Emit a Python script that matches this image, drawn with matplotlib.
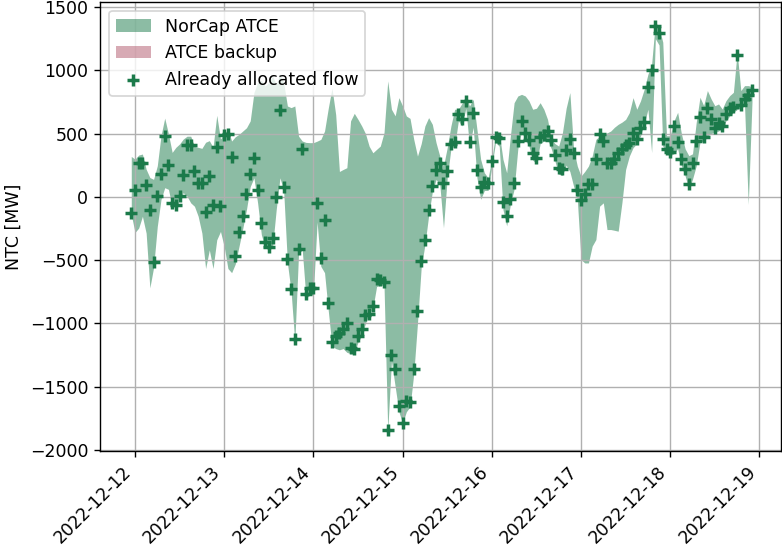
import pandas as pd
import matplotlib
matplotlib.use("Agg")
import matplotlib.pyplot as plt
import matplotlib.dates as mdates

# hourly values, first hour 2022-12-11 23:00
start = "2022-12-11 23:00"

atce_upper = [
    319, 298, 330, 338, 218, 152, 138, 245, 484, 622,
    497, 351, 391, 418, 457, 479, 479, 399, 391, 383,
    431, 444, 391, 644, 457, 497, 537, 441, 475, 494,
    520, 546, 600, 824, 903, 920, 876, 903, 955, 890,
    969, 903, 718, 705, 718, 480, 441, 430, 428, 428,
    440, 454, 520, 700, 860, 650, 200, 216, 230, 600,
    660, 612, 560, 500, 400, 348, 375, 401, 507, 916,
    692, 640, 784, 718, 639, 620, 454, 322, 420, 560,
    626, 573, 428, 322, 243, 388, 560, 692, 692, 740,
    797, 718, 771, 533, 296, 190, 150, 296, 494, 507,
    296, 190, 480, 744, 797, 810, 797, 758, 692, 700,
    744, 692, 612, 454, 420, 401, 507, 700, 824, 380,
    243, 164, 200, 243, 322, 454, 480, 494, 505, 520,
    550, 573, 590, 612, 665, 784, 692, 758, 850, 969,
    1050, 1380, 1340, 1222, 483, 483, 600, 668, 500, 380,
    325, 340, 589, 787, 721, 840, 774, 720, 734, 694,
    760, 800, 826, 1143, 840, 879, 879, 870,
]

atce_lower = [
    -140, -282, -247, -154, -287, -720, -560, -234, -21, 72,
    59, -80, -75, -8, 32, 5, -48, -75, -154, -287,
    -567, -420, -567, -340, -274, -394, -567, -600, -530, -390,
    -250, -100, 80, 150, -50, -300, -400, -420, -400, -100,
    150, 50, -520, -750, -1150, -450, -420, -800, -780, -760,
    -200, -550, -600, -900, -1180, -1200, -1210, -1200, -1230, -1240,
    -1230, -1150, -1100, -1000, -930, -880, -710, -700, -700, -1850,
    -1300, -1500, -1700, -1790, -1700, -1660, -1400, -1000, -560, -380,
    -150, 40, 137, 100, -245, 150, 380, 400, 600, 560,
    700, 400, 550, 150, -20, 50, 50, 240, 430, 400,
    -100, -230, -60, 60, 380, 520, 450, 400, 290, 260,
    420, 440, 450, 380, 280, 180, 170, 250, 200, 84,
    -21, -496, -523, -523, -390, -338, -74, -48, -259, -259,
    -265, -272, -48, 216, 322, 388, 420, 480, 573, 692,
    350, 1250, 1200, 400, 351, 325, 340, 380, 245, 166,
    61, 140, 245, 430, 443, 480, 500, 510, 520, 540,
    600, 640, 668, 690, 700, 721, -60, 750,
]

allocated_flow = [
    -128, 53, 271, 271, 90, -106, -519, 10, 178, 479,
    255, -53, -66, 5, 170, 410, 410, 205, 106, 106,
    -120, 165, -61, 390, -74, 490, 494, 317, -470, -280,
    -148, 26, 182, 309, 53, -211, -359, -396, -325, 0,
    686, 79, -491, -729, -1125, -412, 380, -766, -723, -723,
    -53, -483, -185, -840, -1150, -1100, -1077, -1045, -998, -1196,
    -1204, -1098, -1045, -932, -924, -861, -649, -660, -676, -1843,
    -1249, -1362, -1653, -1785, -1618, -1626, -1362, -906, -510, -343,
    -106, 84, 211, 269, 106, 200, 420, 433, 652, 618,
    758, 436, 665, 211, 79, 116, 111, 282, 472, 467,
    -42, -153, -16, 106, 441, 599, 507, 449, 343, 306,
    475, 486, 520, 449, 327, 230, 216, 370, 454, 348,
    53, -26, 26, 98, 98, 296, 494, 441, 269, 269,
    301, 343, 375, 407, 428, 507, 454, 546, 591, 871,
    1003, 1352, 1299, 459, 375, 354, 560, 433, 301, 222,
    98, 269, 441, 634, 475, 705, 618, 546, 586, 560,
    652, 705, 713, 1119, 723, 771, 803, 845,
]

times = pd.date_range(start, periods=len(allocated_flow), freq="h")

fig = plt.figure(figsize=(782 / 125, 547 / 125), dpi=125)
ax = fig.add_axes([0.1285, 0.1755, 0.9987 - 0.1285, 0.9963 - 0.1755])

ax.fill_between(times, atce_lower, atce_upper, color="#1b7a4a", alpha=0.5,
                linewidth=0, label="NorCap ATCE")
# backup domain has no values in this period, only shows in legend
ax.fill_between([], [], [], color="#b0566a", alpha=0.5, linewidth=0,
                label="ATCE backup")
ax.scatter(times, allocated_flow, marker="+", s=45, linewidths=2.0,
           color="#1b7a4a", label="Already allocated flow", zorder=3)

ax.set_ylabel("NTC [MW]")
ax.set_ylim(-2010, 1540)
ax.set_xlim(pd.Timestamp("2022-12-11 14:43"), pd.Timestamp("2022-12-19 05:48"))
ax.xaxis.set_major_locator(mdates.DayLocator())
ax.xaxis.set_major_formatter(mdates.DateFormatter("%Y-%m-%d"))
plt.setp(ax.get_xticklabels(), rotation=45, ha="right")
ax.grid(True)
ax.legend(loc="upper left")

fig.savefig("out.png", dpi=125)
